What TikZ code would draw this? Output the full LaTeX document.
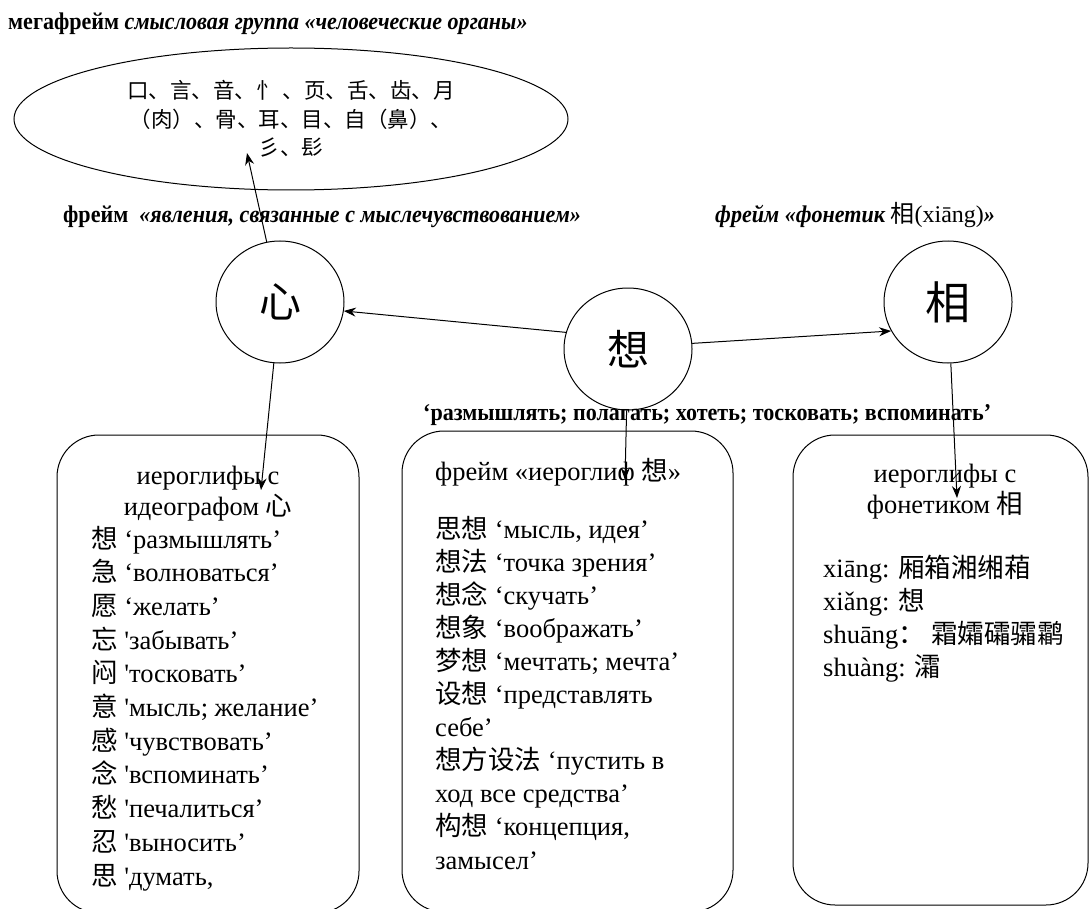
\documentclass[tikz,border=0pt]{standalone}
\usepackage{fontspec}
\setmainfont{Liberation Serif}
\newfontfamily\cjk{Noto Sans CJK SC}
\newfontfamily\narrowfont[FakeStretch=0.92]{Liberation Serif}
\usetikzlibrary{arrows.meta,shapes.geometric}
\newcommand{\zh}[1]{{\cjk #1}}
\tikzset{
  krug/.style={draw, ellipse, line width=1pt, inner sep=0pt, minimum width=128pt, minimum height=122pt, font=\cjk\fontsize{42}{42}\selectfont},
  kotak/.style={draw, line width=1pt, rounded corners=42pt, inner sep=0pt},
  judul/.style={anchor=base west, inner sep=0pt, font=\narrowfont\fontsize{24}{28}\selectfont},
  isi/.style={anchor=base west, inner sep=0pt, font=\fontsize{26.5}{33.5}\selectfont},
  panah/.style={line width=1pt, -{Stealth[length=12pt,width=9pt]}}
}

\begin{document}
\begin{tikzpicture}[x=1pt,y=-1pt]
        \useasboundingbox (0,0) rectangle (1091,909);
        %JUDUL
        \node[judul] (megajudul) at (8,30) {\bfseries мегафрейм \itshape смысловая группа «человеческие органы»};
        \node[judul] (xinjudul) at (63,223) {\bfseries фрейм\ \ \itshape «явления, связанные с мыслечувствованием»};
        \node[judul] (fonjudul) at (715,223) {\bfseries\itshape фрейм «фонетик {\normalfont\zh{相}(xiāng)}»};
        \node[judul] (makna) at (423,420) {\bfseries ‘размышлять; полагать; хотеть; тосковать; вспоминать’};
        %ELIPS
        \node[draw, ellipse, line width=1pt, inner sep=0pt, minimum width=554pt, minimum height=142pt, align=center, font=\cjk\fontsize{21.5}{28.5}\selectfont] (mega) at (291,119) {口、言、音、忄 、页、舌、齿、月\\（肉）、骨、耳、目、自（鼻）、\\彡、髟};
        %LINGKARAN
        \node[krug] (xin) at (280,302) {心};
        \node[krug] (xiang) at (628,349) {想};
        \node[krug, font=\cjk\fontsize{45}{45}\selectfont] (xiangph) at (948,302) {相};
        %KOTAK
        \node[kotak, minimum width=302pt, minimum height=478pt] (kiri) at (208,674) {};
        \node[kotak, minimum width=331pt, minimum height=481pt] (tengah) at (567.5,671.5) {};
        \node[kotak, minimum width=295pt, minimum height=470pt] (kanan) at (940.5,670) {};
        %PANAH
        \coordinate (T1) at (247,153);
        \coordinate (T2) at (261,490);
        \coordinate (T3) at (625,480);
        \coordinate (T4) at (957,498);
        \draw[panah] (xin) -- (T1);
        \draw[panah] (xiang.165) -- (xin.-8);
        \draw[panah] (xiang.5) -- (xiangph.207);
        \draw[panah] (xin) -- (T2);
        \draw[panah] (xiang) -- (T3);
        \draw[panah] (xiangph) -- (T4);
        %ISI KIRI
        \node[isi, anchor=base] (kirijudul1) at (208,484) {иероглифы с};
        \node[isi, anchor=base] (kirijudul2) at (208,515) {идеографом \zh{心}};
        \foreach \baris [count=\i] in {{\zh{想} ‘размышлять’}, {\zh{急} ‘волноваться’}, {\zh{愿} ‘желать’},
            {\zh{忘} \textquotesingle забывать’}, {\zh{闷} \textquotesingle тосковать’}, {\zh{意} \textquotesingle мысль; желание’},
            {\zh{感} \textquotesingle чувствовать’}, {\zh{念} \textquotesingle вспоминать’}, {\zh{愁} \textquotesingle печалиться’},
            {\zh{忍} \textquotesingle выносить’}, {\zh{思} \textquotesingle думать,}}
          \node[isi] (kiri\i) at (91,{548+33.7*(\i-1)}) {\baris};
        %ISI TENGAH
        \node[isi] (tengahjudul) at (435,480) {фрейм «иероглиф \zh{想}»};
        \foreach \baris [count=\i] in {{\zh{思想} ‘мысль, идея’}, {\zh{想法} ‘точка зрения’}, {\zh{想念} ‘скучать’},
            {\zh{想象} ‘воображать’}, {\zh{梦想} ‘мечтать; мечта’}, {\zh{设想} ‘представлять}, {себе’},
            {\zh{想方设法} ‘пустить в}, {ход все средства’}, {\zh{构想} ‘концепция,}, {замысел’}}
          \node[isi] (tengah\i) at (435,{538+33.1*(\i-1)}) {\baris};
        %ISI KANAN
        \node[isi, anchor=base] (kananjudul1) at (945,482) {иероглифы с};
        \node[isi, anchor=base] (kananjudul2) at (945,513) {фонетиком \zh{相}};
        \foreach \baris [count=\i] in {{xiāng: \zh{厢箱湘缃葙}}, {xiǎng: \zh{想}}, {shuāng\zh{：} \zh{霜孀礵骦鹴}}, {shuàng: \zh{灀}}}
          \node[isi] (kanan\i) at (823,{577+33.3*(\i-1)}) {\baris};
    \end{tikzpicture}
\end{document}
